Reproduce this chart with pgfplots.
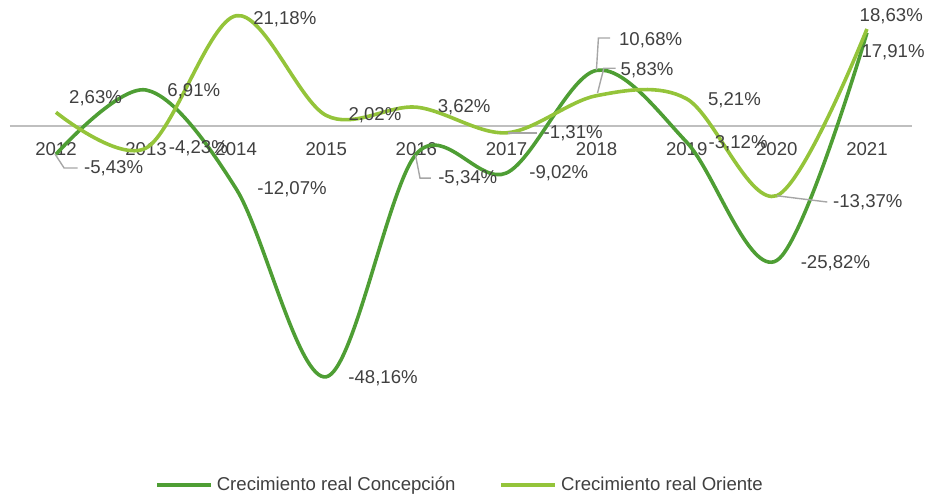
\documentclass[border=0pt]{standalone}
\usepackage{fontspec}
\setmainfont{Liberation Sans}
\usepackage{pgfplots}
\pgfplotsset{compat=1.18}

\definecolor{darkg}{RGB}{78,158,52}
\definecolor{lightg}{RGB}{148,196,58}
\definecolor{txt}{RGB}{64,64,64}
\definecolor{lead}{RGB}{166,166,166}

\begin{document}
\begin{tikzpicture}[font=\fontsize{9.3}{11}\selectfont]
\path[use as bounding box] (-5pt,-29pt) rectangle (463pt,220pt);
\begin{axis}[
    at={(0pt,0pt)}, anchor=south west,
    scale only axis,
    width=451pt, height=220pt,
    xmin=-0.51, xmax=9.5,
    ymin=-60.3, ymax=24.2,
    clip=false,
    axis y line=none,
    axis x line*=middle,
    x axis line style={draw=gray!50, line width=1pt},
    xtick={0,...,9},
    xticklabels={2012,2013,2014,2015,2016,2017,2018,2019,2020,2021},
    major tick length=0pt,
    xticklabel style={text=txt, yshift=-4.5pt},
    legend columns=2,
    legend style={at={(0.5,-0.102)}, anchor=center, draw=none, text=txt,
      /tikz/every even column/.append style={column sep=20pt}},
    legend image code/.code={\draw[#1] (0pt,0pt) -- (27pt,0pt);},
  ]
  \addplot[darkg, line width=1.8pt, smooth, tension=0.55] coordinates {
    (0,-5.43) (1,6.91) (2,-12.07) (3,-48.16) (4,-5.34)
    (5,-9.02) (6,10.68) (7,-3.12) (8,-25.82) (9,17.91)};
  \addlegendentry{Crecimiento real Concepción}
  \addplot[lightg, line width=1.8pt, smooth, tension=0.55] coordinates {
    (0,2.63) (1,-4.23) (2,21.18) (3,2.02) (4,3.62)
    (5,-1.31) (6,5.83) (7,5.21) (8,-13.37) (9,18.63)};
  \addlegendentry{Crecimiento real Oriente}

  % leader lines
  \draw[lead, line width=0.7pt] (axis cs:-0.01,-5.4) -- (axis cs:0.09,-8.06) -- (axis cs:0.24,-8.06);
  \draw[lead, line width=0.7pt] (axis cs:3.99,-5.57) -- (axis cs:4.04,-10.0) -- (axis cs:4.16,-10.0);
  \draw[lead, line width=0.7pt] (axis cs:5.02,-1.34) -- (axis cs:5.34,-1.34);
  \draw[lead, line width=0.7pt] (axis cs:5.998,10.75) -- (axis cs:6.02,16.9) -- (axis cs:6.15,16.9);
  \draw[lead, line width=0.7pt] (axis cs:6.01,6.33) -- (axis cs:6.08,11.1) -- (axis cs:6.21,11.1);
  \draw[lead, line width=0.7pt] (axis cs:8.0,-13.4) -- (axis cs:8.56,-14.6);

  % data labels
  \begin{scope}[every node/.style={text=txt, inner sep=0pt}]
  \node at (axis cs:0.44,5.4) {2,63\%};
  \node at (axis cs:0.64,-8.06) {-5,43\%};
  \node at (axis cs:1.53,6.7) {6,91\%};
  \node at (axis cs:1.58,-4.2) {-4,23\%};
  \node at (axis cs:2.54,20.5) {21,18\%};
  \node at (axis cs:2.62,-12.1) {-12,07\%};
  \node at (axis cs:3.63,-48.4) {-48,16\%};
  \node at (axis cs:3.54,2.1) {2,02\%};
  \node at (axis cs:4.53,3.6) {3,62\%};
  \node at (axis cs:4.57,-10.0) {-5,34\%};
  \node at (axis cs:5.74,-1.34) {-1,31\%};
  \node at (axis cs:5.58,-9.0) {-9,02\%};
  \node at (axis cs:6.6,16.5) {10,68\%};
  \node at (axis cs:6.56,10.75) {5,83\%};
  \node at (axis cs:7.53,5.0) {5,21\%};
  \node at (axis cs:7.57,-3.26) {-3,12\%};
  \node at (axis cs:9.01,-14.6) {-13,37\%};
  \node at (axis cs:8.65,-26.3) {-25,82\%};
  \node at (axis cs:9.27,21.1) {18,63\%};
  \node at (axis cs:9.29,14.2) {17,91\%};
  \end{scope}
\end{axis}
\end{tikzpicture}
\end{document}
